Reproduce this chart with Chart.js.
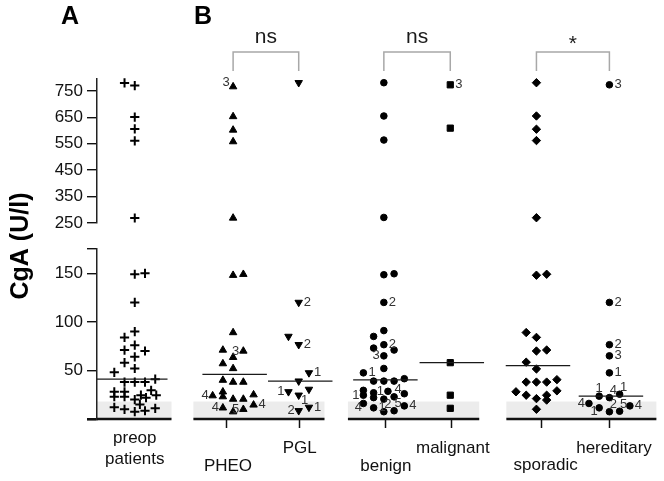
<!DOCTYPE html>
<html><head><meta charset="utf-8">
<script src="https://cdn.jsdelivr.net/npm/chart.js@4.4.1/dist/chart.umd.min.js"></script>
<style>
html,body{margin:0;padding:0;background:#fff;}
#wrap{position:relative;width:664px;height:481px;}
canvas{position:absolute;left:0;top:0;}
</style></head><body>
<div id="wrap"><canvas id="lower" width="664" height="481"></canvas><canvas id="upper" width="664" height="481"></canvas></div>
<script>
// ================= DATA =================
const categories = ['preop patients', 'PHEO', 'PGL', 'benign', 'malignant', 'sporadic', 'hereditary'];
const preopValues = [780, 770, 651, 606, 561, 269, 149, 150, 120, 90, 84, 76, 71, 70, 64, 58, 52, 48, 38, 38, 38, 41, 28, 23, 28, 23, 20, 24.5, 22, 29.5, 24.5, 15, 12, 10, 7.5, 8.5, 11];
const pheoValues = [766, 653, 602, 558, 269, 148, 149, 89, 71, 70, 63.5, 57, 52, 40, 38, 38, 24, 28, 23, 20.5, 20.5, 25, 14.5, 11.5, 7.5, 10];
const pheoTags = ['3', '', '', '', '', '', '', '', '', '3', '', '', '', '', '', '', '4', '', '', '', '', '', '4', '4', '', '5'];
const pglValues = [781, 120, 85, 76.5, 47.5, 39, 28, 24.5, 30.5, 12, 8.5];
const pglTags = ['', '2', '', '2', '1', '', '1', '1', '', '1', '2'];
const benignValues = [781, 655, 564, 271, 148.5, 149.5, 120, 91, 85, 76.5, 73, 71, 65, 52, 47.5, 39, 39, 39, 41.5, 29.5, 24.5, 27, 22, 28.5, 22.8, 26, 20.5, 16, 11.5, 7.5, 8.5, 13.5];
const benignTags = ['', '', '', '', '', '', '2', '', '', '2', '', '', '3', '', '1', '', '', '', '', '', '1', '', '', '1', '4', '', '', '4', '1', '2', '5', '4'];
const malignantValues = [773, 609, 58, 24.5, 11];
const malignantTags = ['3', '', '', '', ''];
const sporadicValues = [781, 655, 605, 562, 270, 148, 149, 89, 84, 70, 71, 58.5, 51.5, 38, 38, 38, 40.5, 28, 24.5, 21, 24.5, 19.5, 29, 10];
const hereditaryValues = [773, 120, 76.5, 65, 47.5, 23.5, 22, 25.5, 16, 11.5, 7.5, 8, 13.5];
const hereditaryTags = ['3', '2', '2', '3', '1', '1', '4', '1', '4', '1', '2', '5', '4'];
const upperTickLabels = [250, 350, 450, 550, 650, 750];
const lowerTickLabels = [50, 100, 150];
const comparisons = [
  {a: 'PHEO', b: 'PGL', label: 'ns'},
  {a: 'benign', b: 'malignant', label: 'ns'},
  {a: 'sporadic', b: 'hereditary', label: '*'}
];
const referenceBand = [0, 18];
const panelLetters = ['A', 'B'];
const yTitle = 'CgA (U/l)';

// ================= LAYOUT / STYLE =================
const FONT = "'Liberation Sans', Arial, sans-serif";
const L = {
  xMin: -3.69, xMax: 51.07,
  upper: {min: 250, max: 795, top: 79, bottom: 258},
  lower: {min: 0, max: 175, top: 249, bottom: 62},
  center: {preop: 0, PHEO: 9.61, PGL: 16.02, benign: 24.34, malignant: 30.83, sporadic: 39.25, hereditary: 46.38},
  slots: {
    preop: [-1,0,0,0,0,0, 0,1,0, 0,-1,0,-1,1,0,-1,0,-2, -1,0,1,2, -2,-2,-1,-1,0,0.6,1.1,1.6,2.1,0.5, -2,-1,0,1,2],
    PHEO: [0,0,0,0,0, 0,1, 0,-1,1,0,-1,0, -1,0,1, -2,-1,-1,0,1,2,2,-1,0,1],
    PGL: [0,0,-1,0,1,0,-1,0,1,1,0],
    benign: [0,0,0,0, 0,1,0, 0,-1,0,-1,1,0,0,-2, -1,0,1,2, -2,-2,-1,-1,0.4,1,2,0,-2,-1,0,1,2],
    malignant: [0,0,0,0,0],
    sporadic: [0,0,0,0,0, 0,1, -1,0,0,1,-1,0, -1,0,1,2, -2,-1,0,1,1,2,0],
    hereditary: [0,0,0,0,0,-1,0,1,-2,-1,0,1,2]
  },
  tagPos: {
    PHEO: ['ul','','','','','','','','','l','','','','','','','l','','','','','','r','l','','l'],
    PGL: ['','r','','r','r','','l','dr','','r','l'],
    benign: ['','','','','','','r','','','r','','','l','','r','','','','','','l','','','l','ur','','','dl','r','ur','ur','r'],
    malignant: ['r','','','',''],
    hereditary: ['r','r','r','r','r','u','ur','ur','l','dl','ur','ur','r']
  },
  tickOff: {PHEO: -0.7, PGL: 0, benign: 0.1, malignant: 0.05, sporadic: 0.4, hereditary: 0},
  labelOff: {preop: 0, PHEO: -0.5, PGL: 0.1, benign: 0.2, malignant: 0.25, sporadic: 0.9, hereditary: 0.45},
  labelBase: {preop: [443, 464], PHEO: [471], PGL: [453], benign: [471], malignant: [453], sporadic: [470], hereditary: [453]},
  medianSpan: {preop: [-3.69, 3.2], other: [-3.0, 3.3]},
  segments: [[-3.69, 3.59], [5.73, 18.54], [20.83, 33.66], [36.31, 50.97]],
  bracket: {top: 52, bottom: 71, textY: 43, starY: 50}
};
const TAG_OFF = {r: [5, 0, 'left'], l: [-4, 0, 'right'], ur: [4, -7, 'center'], ul: [-7, -4, 'center'],
                 u: [0, -8, 'center'], dl: [-5, 4, 'center'], dr: [6, 5, 'center']};

const groups = [
  {key: 'preop', cat: 0, values: preopValues, tags: null, marker: {pointStyle: 'cross', pointRadius: 4.6, pointBorderWidth: 2}},
  {key: 'PHEO', cat: 1, values: pheoValues, tags: pheoTags, marker: {pointStyle: 'triangle', pointRadius: 4.3}},
  {key: 'PGL', cat: 2, values: pglValues, tags: pglTags, marker: {pointStyle: 'triangle', pointRadius: 4.3, pointRotation: 180}},
  {key: 'benign', cat: 3, values: benignValues, tags: benignTags, marker: {pointStyle: 'circle', pointRadius: 3.3}},
  {key: 'malignant', cat: 4, values: malignantValues, tags: malignantTags, marker: {pointStyle: 'rect', pointRadius: 4.4}},
  {key: 'sporadic', cat: 5, values: sporadicValues, tags: null, marker: {pointStyle: 'rectRot', pointRadius: 4.2}},
  {key: 'hereditary', cat: 6, values: hereditaryValues, tags: hereditaryTags, marker: {pointStyle: 'circle', pointRadius: 3.3}}
];

function median(arr) {
  const s = [...arr].sort((a, b) => a - b);
  const n = s.length;
  return n % 2 ? s[(n - 1) / 2] : (s[n / 2 - 1] + s[n / 2]) / 2;
}

function scatterSets(range) {
  return groups.map(g => ({
    type: 'scatter',
    label: categories[g.cat],
    data: g.values.map((v, i) => ({
      x: L.center[g.key] + L.slots[g.key][i], y: v,
      tag: g.tags ? g.tags[i] : '',
      pos: (L.tagPos[g.key] || [])[i] || 'r'
    })).filter(p => p.y >= range.min && p.y <= range.max),
    pointBackgroundColor: '#000', pointBorderColor: '#000', pointBorderWidth: 1,
    ...g.marker, showLine: false, clip: false
  }));
}

function medianSets() {
  return groups.map(g => {
    const m = median(g.values);
    const c = L.center[g.key];
    const sp = g.key === 'preop' ? L.medianSpan.preop : L.medianSpan.other;
    return {type: 'line', label: 'median ' + categories[g.cat],
      data: [{x: c + sp[0], y: m}, {x: c + sp[1], y: m}],
      borderColor: '#1a1a1a', borderWidth: 1.3, pointRadius: 0, fill: false, clip: false};
  });
}

function drawTags(chart) {
  const ctx = chart.ctx;
  ctx.save();
  ctx.font = '13px ' + FONT;
  ctx.fillStyle = '#333';
  ctx.textBaseline = 'middle';
  chart.data.datasets.forEach((ds, di) => {
    if (ds.type !== 'scatter') return;
    const meta = chart.getDatasetMeta(di);
    meta.data.forEach((el, j) => {
      const raw = ds.data[j];
      if (!raw.tag) return;
      const o = TAG_OFF[raw.pos] || TAG_OFF.r;
      ctx.textAlign = o[2];
      ctx.fillText(raw.tag, el.x + o[0], el.y + o[1]);
    });
  });
  ctx.restore();
}

function yScale(range, tickVals, labelVals) {
  return {
    type: 'linear', min: range.min, max: range.max,
    afterBuildTicks: s => { s.ticks = tickVals.map(v => ({value: v})); },
    afterFit: s => { s.width = 97; },
    border: {display: true, color: '#222', width: 1.5},
    grid: {drawOnChartArea: false, drawTicks: true, tickLength: 10, color: '#111',
           lineWidth: c => (c.tick && c.tick.value === 0) ? 2.6 : 1.4},
    ticks: {font: {family: FONT, size: 17}, color: '#111', padding: 4, autoSkip: false,
            callback: v => labelVals.includes(v) ? String(v) : ''}
  };
}

const xScale = {type: 'linear', min: L.xMin, max: L.xMax, display: false};

const lowerPlugin = {
  id: 'lowerDecor',
  beforeDraw(chart) {
    const {ctx, scales: {x, y}} = chart;
    ctx.save();
    ctx.fillStyle = '#ececec';
    const yTop = y.getPixelForValue(referenceBand[1]);
    const yBot = y.getPixelForValue(referenceBand[0]);
    L.segments.forEach(s => {
      const x0 = x.getPixelForValue(s[0]), x1 = x.getPixelForValue(s[1]);
      ctx.fillRect(x0, yTop, x1 - x0, yBot - yTop);
    });
    ctx.restore();
  },
  afterDatasetsDraw(chart) {
    const {ctx, scales: {x, y}} = chart;
    const y0 = y.getPixelForValue(0);
    ctx.save();
    ctx.strokeStyle = '#111';
    ctx.lineWidth = 2.6;
    L.segments.forEach(s => {
      ctx.beginPath();
      ctx.moveTo(x.getPixelForValue(s[0]), y0);
      ctx.lineTo(x.getPixelForValue(s[1]), y0);
      ctx.stroke();
    });
    ctx.lineWidth = 1.5;
    groups.forEach(g => {
      if (!(g.key in L.tickOff)) return;
      const px = Math.round(x.getPixelForValue(L.center[g.key] + L.tickOff[g.key])) + 0.5;
      ctx.beginPath();
      ctx.moveTo(px, y0);
      ctx.lineTo(px, y0 + 9);
      ctx.stroke();
    });
    ctx.fillStyle = '#111';
    ctx.font = '17px ' + FONT;
    ctx.textAlign = 'center';
    ctx.textBaseline = 'alphabetic';
    groups.forEach(g => {
      const lines = g.key === 'preop' ? categories[g.cat].split(' ') : [categories[g.cat]];
      const px = x.getPixelForValue(L.center[g.key] + L.labelOff[g.key]);
      lines.forEach((t, k) => ctx.fillText(t, px, L.labelBase[g.key][k]));
    });
    ctx.restore();
    drawTags(chart);
  }
};

const upperPlugin = {
  id: 'upperDecor',
  afterDatasetsDraw(chart) {
    const {ctx, scales: {x}} = chart;
    drawTags(chart);
    ctx.save();
    // comparison brackets
    ctx.strokeStyle = '#a8a8a8';
    ctx.lineWidth = 1.5;
    ctx.fillStyle = '#1a1a1a';
    ctx.textAlign = 'center';
    ctx.textBaseline = 'alphabetic';
    comparisons.forEach(c => {
      const xa = x.getPixelForValue(L.center[c.a]), xb = x.getPixelForValue(L.center[c.b]);
      ctx.beginPath();
      ctx.moveTo(xa, L.bracket.bottom);
      ctx.lineTo(xa, L.bracket.top);
      ctx.lineTo(xb, L.bracket.top);
      ctx.lineTo(xb, L.bracket.bottom);
      ctx.stroke();
      ctx.font = '21px ' + FONT;
      ctx.fillText(c.label, (xa + xb) / 2, c.label === '*' ? L.bracket.starY : L.bracket.textY);
    });
    // panel letters
    ctx.font = 'bold 25px ' + FONT;
    ctx.textBaseline = 'middle';
    ctx.fillStyle = '#000';
    ctx.fillText(panelLetters[0], 70, 17);
    ctx.fillText(panelLetters[1], 203, 17);
    // y title
    ctx.translate(21, 246);
    ctx.rotate(-Math.PI / 2);
    ctx.font = 'bold 25px ' + FONT;
    ctx.fillText(yTitle, 0, 0);
    ctx.restore();
  }
};

function makeChart(id, range, tickVals, labelVals, extraSets, plugin) {
  return new Chart(document.getElementById(id), {
    data: {datasets: [...extraSets, ...scatterSets(range)]},
    options: {
      responsive: false, animation: false, events: [],
      layout: {padding: {left: 0, right: 3, top: range.top, bottom: range.bottom}},
      plugins: {legend: {display: false}, tooltip: {enabled: false}},
      scales: {x: xScale, y: yScale(range, tickVals, labelVals)}
    },
    plugins: [plugin]
  });
}

makeChart('lower', L.lower, [0, ...lowerTickLabels, L.lower.max], lowerTickLabels, medianSets(), lowerPlugin);
makeChart('upper', L.upper, upperTickLabels, upperTickLabels, [], upperPlugin);
</script>
</body></html>
